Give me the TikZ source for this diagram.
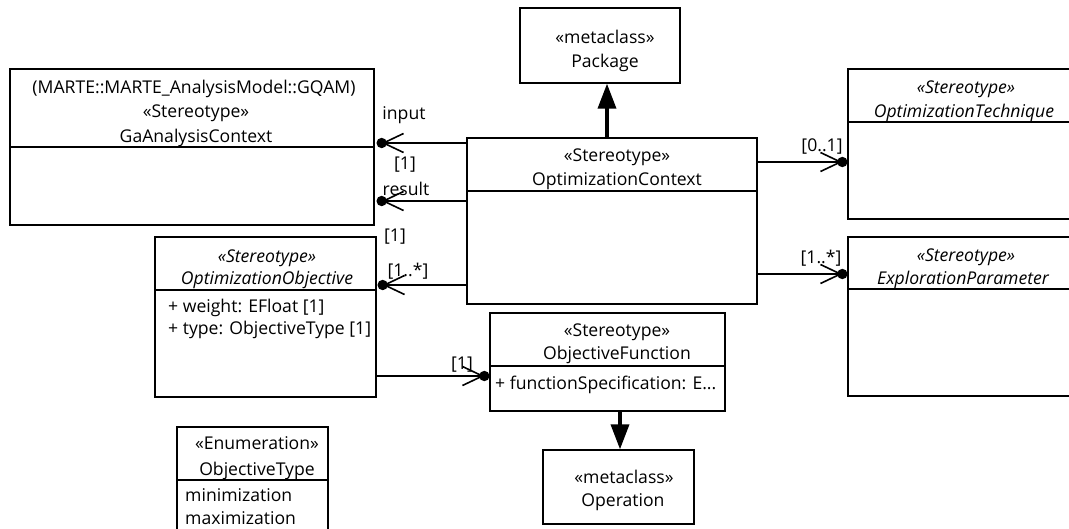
\documentclass[tikz,border=0pt]{standalone}
\usepackage{fontspec}
\setmainfont{Open Sans}
\usetikzlibrary{arrows.meta}

\tikzset{
  cls/.style={draw, line width=1.3pt, inner sep=0pt, fill=white},
  txt/.style={inner sep=0pt, font=\fontsize{17.6}{20}\selectfont, text height=12.5pt, text depth=4pt},
  ital/.style={txt, font=\fontsize{17.6}{20}\selectfont\itshape},
  attr/.style={txt, anchor=west},
  divider/.style={line width=1.3pt},
  assoc/.style={line width=1.3pt, -{Straight Barb[length=20pt,width=19pt,line width=1.6pt]}},
  enddot/.style={fill=black},
  ext/.style={line width=3.5pt, -{Triangle[length=25pt,width=18pt]}},
}

\begin{document}
\begin{tikzpicture}[x=1pt,y=-1pt]
\clip (0,0) rectangle (1069,528);
\fill[white] (0,0) rectangle (1069,528);

% ---------- classes ----------
\node[cls, minimum width=364, minimum height=156] (gac) at (192,147) {};
\draw[divider] (gac.west |- 0,147) -- (gac.east |- 0,147);
\node[txt] (gacP) at (194,89) {(MARTE::MARTE\_AnalysisModel::GQAM)};
\node[txt] (gacS) at (196,113) {«Stereotype»};
\node[txt] (gacN) at (196,138) {GaAnalysisContext};

\node[cls, minimum width=160, minimum height=75] (pkg) at (600,45.5) {};
\node[txt] (pkgS) at (605,39) {«metaclass»};
\node[txt] (pkgN) at (605,63) {Package};

\node[cls, minimum width=290, minimum height=166] (oc) at (612,221) {};
\draw[divider] (oc.west |- 0,191) -- (oc.east |- 0,191);
\node[txt] (ocS) at (617,157) {«Stereotype»};
\node[txt] (ocN) at (617,181) {OptimizationContext};

\node[cls, minimum width=240, minimum height=150] (ot) at (968,144) {};
\draw[divider] (ot.west |- 0,122) -- (ot.east |- 0,122);
\node[ital] (otS) at (966,89) {«Stereotype»};
\node[ital] (otN) at (964,113) {OptimizationTechnique};

\node[cls, minimum width=240, minimum height=159] (ep) at (968,316.5) {};
\draw[divider] (ep.west |- 0,289) -- (ep.east |- 0,289);
\node[ital] (epS) at (966,257) {«Stereotype»};
\node[ital] (epN) at (963,280) {ExplorationParameter};

\node[cls, minimum width=221, minimum height=160] (oo) at (265.5,317) {};
\draw[divider] (oo.west |- 0,290) -- (oo.east |- 0,290);
\node[ital] (ooS) at (267,258) {«Stereotype»};
\node[ital] (ooN) at (267,280) {OptimizationObjective};
\node[attr] (ooA1) at (168,308) {+ weight: EFloat [1]};
\node[attr] (ooA2) at (168,330) {+ type: ObjectiveType [1]};

\node[cls, minimum width=235, minimum height=98] (of) at (607.5,362) {};
\draw[divider] (of.west |- 0,366) -- (of.east |- 0,366);
\node[txt] (ofS) at (617,332) {«Stereotype»};
\node[txt] (ofN) at (617,355) {ObjectiveFunction};
\node[attr] (ofA) at (495,385) {+ functionSpecification: E...};

\node[cls, minimum width=151, minimum height=113] (ety) at (252.5,483.5) {};
\draw[divider] (ety.west |- 0,480) -- (ety.east |- 0,480);
\node[txt] (etyS) at (257,445) {«Enumeration»};
\node[txt] (etyN) at (257,471) {ObjectiveType};
\node[attr] (etyL1) at (185,497) {minimization};
\node[attr] (etyL2) at (185,520) {maximization};

\node[cls, minimum width=151, minimum height=74] (op) at (618.5,487) {};
\node[txt] (opS) at (624,479) {«metaclass»};
\node[txt] (opN) at (623,502) {Operation};

% ---------- association ends ----------
\coordinate (eIn)  at ([xshift=7pt]gac.east |- 0,143);
\coordinate (eRes) at ([xshift=7pt]gac.east |- 0,201);
\coordinate (eObj) at ([xshift=6pt]oo.east |- 0,285);
\coordinate (eTec) at ([xshift=-5pt]ot.west |- 0,162);
\coordinate (ePar) at ([xshift=-5pt]ep.west |- 0,274);
\coordinate (eFun) at ([xshift=-5pt]of.west |- 0,376);

\draw[assoc] (oc.west |- 0,143) -- (eIn);
\draw[assoc] (oc.west |- 0,201) -- (eRes);
\draw[assoc] (oc.west |- 0,285) -- (eObj);
\draw[assoc] (oc.east |- 0,162) -- (eTec);
\draw[assoc] (oc.east |- 0,274) -- (ePar);
\draw[assoc] (oo.east |- 0,376) -- (eFun);
\foreach \e in {eIn,eRes,eObj,eTec,ePar,eFun}
  \fill[enddot] (\e) circle[radius=5.2pt];

% ---------- end labels ----------
\node[txt] (lIn)   at (404,115) {input};
\node[txt] (lIn1)  at (405,165) {[1]};
\node[txt] (lRes)  at (406,191) {result};
\node[txt] (lRes1) at (395,237) {[1]};
\node[txt] (lObj)  at (408,272) {[1..*]};
\node[txt] (lTec)  at (822,147) {[0..1]};
\node[txt] (lPar)  at (821,259) {[1..*]};
\node[txt] (lFun)  at (462,365) {[1]};

% ---------- extensions ----------
\draw[ext] (oc.north -| 607,0) -- (pkg.south -| 607,0);
\draw[ext] (of.south -| 620,0) -- (op.north -| 620,0);
\end{tikzpicture}
\end{document}
